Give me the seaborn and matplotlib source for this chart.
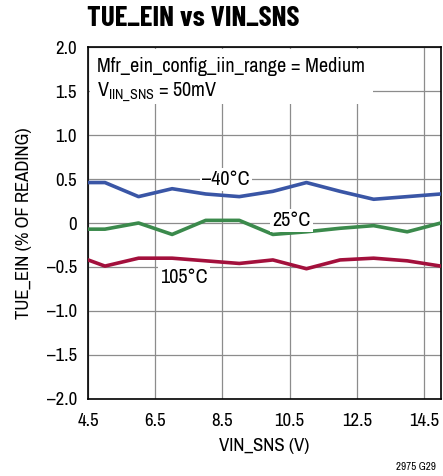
import numpy as np
import pandas as pd
import matplotlib
matplotlib.use('Agg')
import matplotlib.pyplot as plt
from matplotlib.patches import Rectangle
import seaborn as sns

# dane
vin = [4.5, 5, 6, 7, 8, 9, 10, 11, 12, 13, 14, 15]
tue_m40 = [0.46, 0.46, 0.30, 0.39, 0.33, 0.30, 0.36, 0.46, 0.36, 0.27, 0.30, 0.33]
tue_25 = [-0.07, -0.07, 0.00, -0.13, 0.03, 0.03, -0.13, -0.10, -0.06, -0.03, -0.10, 0.00]
tue_105 = [-0.42, -0.49, -0.40, -0.40, -0.43, -0.46, -0.42, -0.52, -0.42, -0.40, -0.43, -0.49]

temps = ['–40°C', '25°C', '105°C']
kolory = ['#3a56a6', '#3b8a4c', '#a3103c']

df = pd.DataFrame({
    'vin': vin * 3,
    'tue': tue_m40 + tue_25 + tue_105,
    'temp': [t for t in temps for _ in vin],
})

sns.set_style('white')
plt.rcParams['font.family'] = ['Archivo Narrow', 'DejaVu Sans']
plt.rcParams['text.color'] = 'black'
plt.rcParams['axes.labelcolor'] = 'black'
plt.rcParams['xtick.color'] = 'black'
plt.rcParams['ytick.color'] = 'black'
plt.rcParams['mathtext.fontset'] = 'custom'
plt.rcParams['mathtext.rm'] = 'Archivo Narrow'

fig = plt.figure(figsize=(4.43, 4.76), dpi=100)
ax = fig.add_axes([0.199, 0.162, 0.796, 0.739])

sns.lineplot(data=df, x='vin', y='tue', hue='temp', palette=kolory,
             linewidth=2.6, legend=False, ax=ax, zorder=3)

ax.set_xlim(4.5, 15)
ax.set_ylim(-2, 2)
xt = [4.5, 6.5, 8.5, 10.5, 12.5, 14.5]
ax.set_xticks(xt)
ax.set_xticklabels([str(v) for v in xt])
yt = np.arange(-2, 2.01, 0.5)
ax.set_yticks(yt)
ax.set_yticklabels(['0' if abs(v) < 1e-9 else f'{v:.1f}'.replace('-', '–') for v in yt])
ax.tick_params(axis='both', length=0, labelsize=13.5)
ax.tick_params(axis='x', pad=10)
ax.tick_params(axis='y', pad=8)
ax.grid(True, color='#8c8c8c', linewidth=0.9)
for s in ax.spines.values():
    s.set_color('black')
    s.set_linewidth(1.2)

ax.set_xlabel('VIN_SNS (V)', fontsize=13.5, labelpad=7)
ax.set_ylabel('TUE_EIN (% OF READING)', fontsize=13.5, labelpad=11)

fig.text(0.197, 0.945, 'TUE_EIN vs VIN_SNS', fontsize=21, fontweight='bold',
         family=['Barlow Condensed', 'DejaVu Sans'], ha='left', va='baseline')

# białe tło pod opisem warunków
ax.add_patch(Rectangle((0.004, 0.838), 0.803, 0.158, transform=ax.transAxes,
                       facecolor='white', edgecolor='none', zorder=2.5))
ax.text(4.75, 1.78, 'Mfr_ein_config_iin_range = Medium', fontsize=14.5,
        va='center', ha='left', zorder=4)
ax.text(4.75, 1.49, r'V$_{\mathregular{IIN\_SNS}}$ = 50mV', fontsize=14.5,
        va='center', ha='left', zorder=4)

bb = dict(facecolor='white', edgecolor='none', pad=1.5)
ax.text(8.6, 0.49, '–40°C', fontsize=14.5, ha='center', va='center', bbox=bb, zorder=4)
ax.text(10.55, 0.03, '25°C', fontsize=14.5, ha='center', va='center', bbox=bb, zorder=4)
ax.text(7.35, -0.62, '105°C', fontsize=14.5, ha='center', va='center', bbox=bb, zorder=4)

fig.text(0.985, 0.019, '2975 G29', fontsize=8, ha='right', va='center')

fig.savefig('out.png', dpi=100)
